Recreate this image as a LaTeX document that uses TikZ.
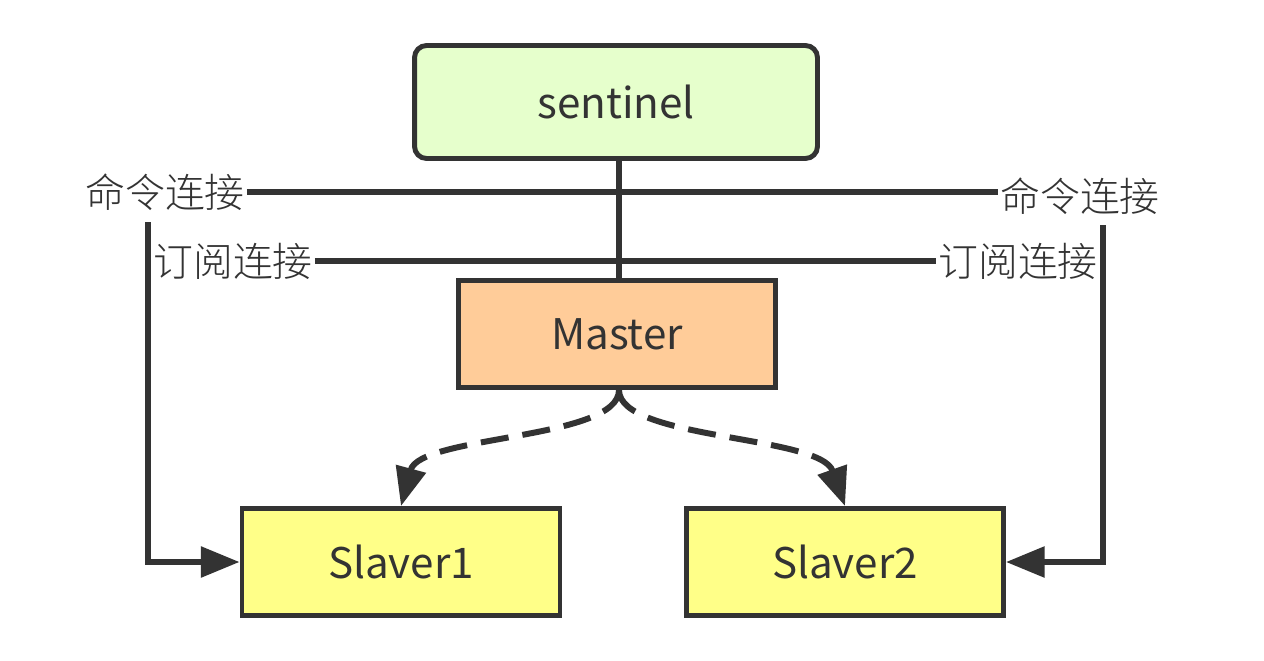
\documentclass[tikz,border=0pt]{standalone}
\usepackage{fontspec}
\setmainfont{Noto Sans CJK SC}
\newfontfamily\labelfont{Noto Sans CJK SC Light}
\usetikzlibrary{arrows.meta}
\definecolor{ink}{HTML}{333333}
\definecolor{sentfill}{HTML}{E6FFCC}
\definecolor{masterfill}{HTML}{FFCC99}
\definecolor{slavefill}{HTML}{FFFF88}
\begin{document}
\begin{tikzpicture}[x=0.02cm,y=-0.02cm,
  box/.style={draw=ink, line width=2.8pt, text=ink, inner sep=0pt,
    font=\fontsize{24}{28}\selectfont},
  lbl/.style={text=ink, inner sep=1pt, font=\labelfont\fontsize{22.7}{26}\selectfont},
  wire/.style={draw=ink, line width=3.4pt},
  tipped/.style={-{Triangle[length=22pt,width=17pt]}},
  dashwire/.style={wire, dash pattern=on 16pt off 8pt}]
\useasboundingbox[fill=white] (0,0) rectangle (1264,660);

% boxes
\node[box, fill=sentfill, rounded corners=0.24cm, minimum width=8.06cm, minimum height=2.26cm]
  (sentinel) at (616,102) {sentinel};
\node[box, fill=masterfill, minimum width=6.34cm, minimum height=2.14cm]
  (master) at (617,334) {Master};
\node[box, fill=slavefill, minimum width=6.36cm, minimum height=2.14cm]
  (s1) at (401,562) {Slaver1};
\node[box, fill=slavefill, minimum width=6.34cm, minimum height=2.14cm]
  (s2) at (845,562) {Slaver2};

% connection labels
\node[lbl] (cmdL) at (165,192) {命令连接};
\node[lbl] (cmdR) at (1080,196) {命令连接};
\node[lbl] (subL) at (233,261) {订阅连接};
\node[lbl] (subR) at (1018,261) {订阅连接};

% sentinel to master trunk and the two horizontal links
\draw[wire] (sentinel.south -| 619,0) -- (master.north -| 619,0);
\draw[wire] (cmdL.east) -- (cmdR.west |- cmdL.east);
\draw[wire] (subL.east) -- (subR.west |- subL.east);

% side links down to the slaves
\coordinate (ltop) at (148,222);
\coordinate (rtop) at (1103,225);
\draw[wire, tipped] (ltop) |- (s1.west);
\draw[wire, tipped] (rtop) |- (s2.east);

% replication links
\draw[dashwire, tipped] (master.south -| 619,0) .. controls (619,440) and (420,435) .. (s1.north);
\draw[dashwire, tipped] (master.south -| 619,0) .. controls (619,440) and (820,435) .. (s2.north);
\end{tikzpicture}
\end{document}
